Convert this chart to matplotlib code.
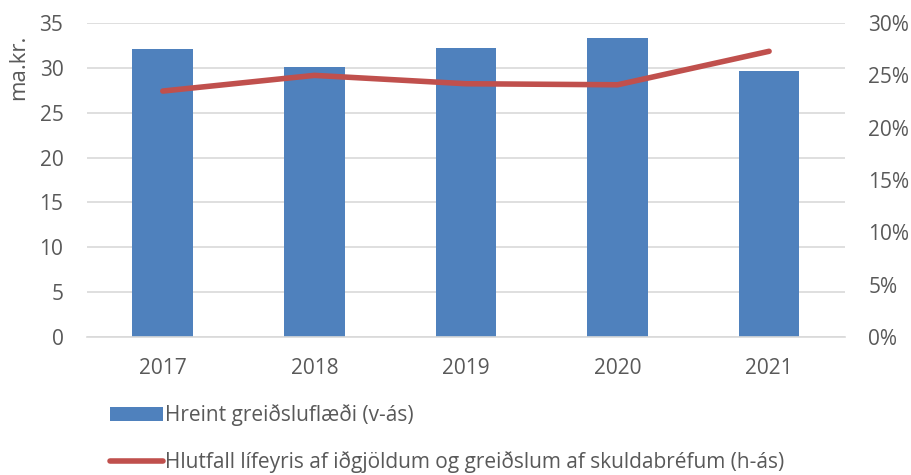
import matplotlib.pyplot as plt
import numpy as np
from matplotlib.ticker import PercentFormatter

plt.rcParams['font.family'] = ['Open Sans', 'DejaVu Sans']

ar = ['2017', '2018', '2019', '2020', '2021']
greidsluflaedi = [32.1, 30.1, 32.2, 33.3, 29.6]
hlutfall = [23.5, 25.0, 24.2, 24.1, 27.3]

blar = '#4f81bd'
raudur = '#c0504d'
grar = '#595959'

fig = plt.figure(figsize=(9.12, 4.75), dpi=100)
ax = fig.add_axes([0.0954, 0.2905, 0.831, 0.661])
x = np.arange(len(ar))

stolpar = ax.bar(x, greidsluflaedi, width=0.40, color=blar, zorder=2,
                 label='Hreint greiðsluflæði (v-ás)')
ax.set_ylim(0, 35)
ax.set_yticks(range(0, 36, 5))
ax.set_xlim(-0.5, len(ar) - 0.5)
ax.set_xticks(x)
ax.set_xticklabels(ar)
ax.grid(axis='y', color='#d9d9d9', linewidth=1.2, zorder=0)
ax.set_axisbelow(True)
for s in ['top', 'right', 'left']:
    ax.spines[s].set_visible(False)
ax.spines['bottom'].set_color('#d9d9d9')
ax.spines['bottom'].set_linewidth(1.2)
ax.tick_params(axis='both', length=0, labelsize=15, colors=grar, pad=17)
ax.tick_params(axis='x', pad=15)
ax.set_ylabel('ma.kr.', fontsize=16, color=grar)
ax.yaxis.set_label_coords(-0.077, 0.86)

ax2 = ax.twinx()
lina, = ax2.plot(x, hlutfall, color=raudur, linewidth=4, solid_capstyle='round',
                 label='Hlutfall lífeyris af iðgjöldum og greiðslum af skuldabréfum (h-ás)')
ax2.set_ylim(0, 30)
ax2.set_yticks(range(0, 31, 5))
ax2.yaxis.set_major_formatter(PercentFormatter(decimals=0))
for s in ax2.spines.values():
    s.set_visible(False)
ax2.tick_params(axis='y', length=0, labelsize=15, colors=grar, pad=17)

fig.legend(handles=[stolpar, lina], loc='upper left', bbox_to_anchor=(0.112, 0.166),
           frameon=False, fontsize=15, labelcolor=grar, handlelength=2.5,
           handletextpad=0.1, labelspacing=1.2, borderaxespad=0)

fig.savefig('out.png', dpi=100)
